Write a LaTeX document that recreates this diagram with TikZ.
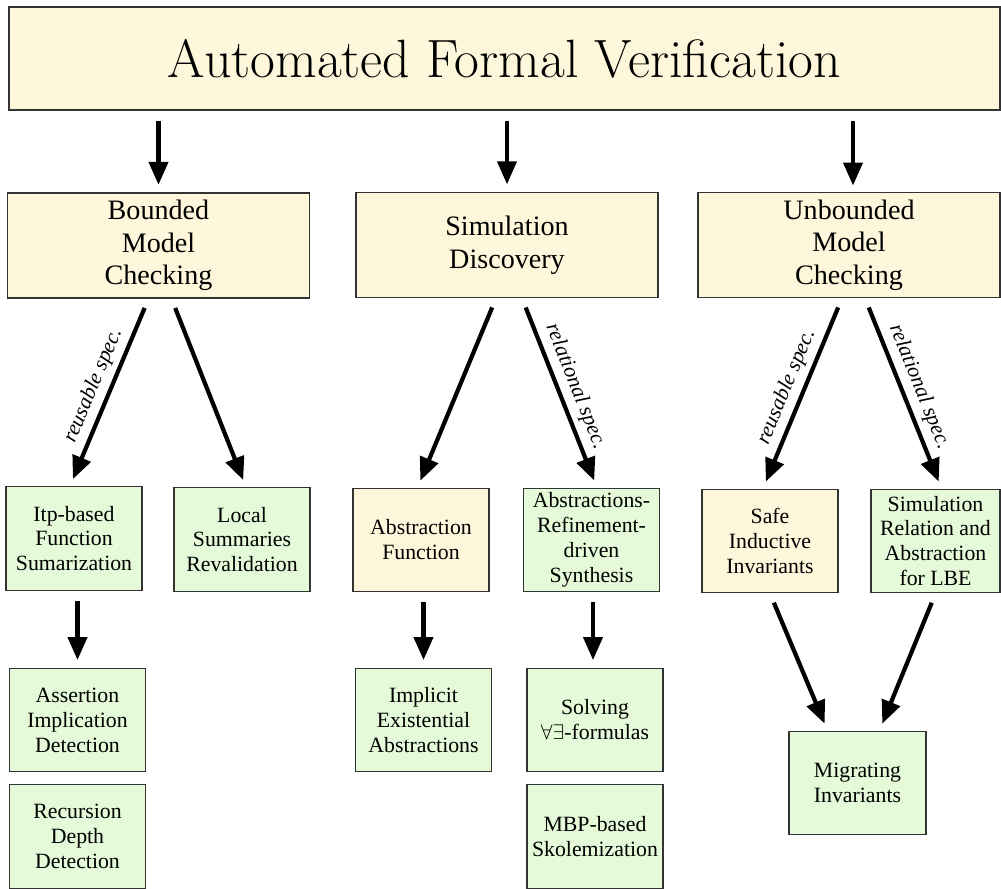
\documentclass[tikz,border=0pt]{standalone}
\usepackage{fontspec}
\newfontfamily\boxfont{Liberation Serif}
\usetikzlibrary{arrows.meta}

\definecolor{boxyellow}{RGB}{254,247,220}
\definecolor{boxgreen}{RGB}{228,250,216}

\begin{document}
\begin{tikzpicture}[
			x=0.02cm, y=-0.02cm,
			every node/.style={font=\boxfont\fontsize{12.4}{14.2}\selectfont, align=center, inner sep=0pt},
			box/.style={draw=black!80, line width=0.8pt, minimum width=2.72cm, minimum height=2.07cm},
			goal/.style={box, fill=boxyellow},
			task/.style={box, fill=boxgreen},
			area/.style={goal, minimum width=6.04cm, minimum height=2.1cm, font=\boxfont\fontsize{16}{18.6}\selectfont},
			link/.style={-{Triangle[width=0.38cm,length=0.46cm]}, line width=2.4pt, shorten <=0.2cm, shorten >=0.15cm},
			spec/.style={font=\boxfont\itshape\fontsize{12.2}{14}\selectfont, sloped, above, inner sep=3pt}
			]

				\useasboundingbox (0,0) rectangle (1001,889);

				% top
				\node[goal, minimum width=19.82cm, minimum height=2.06cm, font=\rmfamily\fontsize{30.7}{36}\selectfont]
					(title) at (504.5,58.5) {Automated Formal Verification};

				% three approaches
				\node[area] (bmc) at (158.5,245.5) {Bounded\\Model\\Checking};
				\node[area] (sd) at (507,245) {Simulation\\Discovery};
				\node[area] (umc) at (849,245) {Unbounded\\Model\\Checking};

				% techniques
				\node[task] (itp) at (74,538.5) {Itp-based\\Function\\Sumarization};
				\node[task] (local) at (242,539.5) {Local\\Summaries\\Revalidation};
				\node[goal] (absfun) at (421,540) {Abstraction\\Function};
				\node[task] (ards) at (591.5,540) {Abstractions-\\Refinement-\\driven\\Synthesis};
				\node[goal] (safe) at (770,541) {Safe\\Inductive\\Invariants};
				\node[task, minimum width=2.58cm] (simrel) at (935.5,541) {Simulation\\Relation and\\Abstraction\\for LBE};

				\node[task] (assert) at (77.5,720) {Assertion\\Implication\\Detection};
				\node[task] (recur) at (77.5,836.5) {Recursion\\Depth\\Detection};
				\node[task] (implicit) at (423.5,720) {Implicit\\Existential\\Abstractions};
				\node[task] (solving) at (595,720) {Solving\\$\forall\exists$-formulas};
				\node[task] (mbp) at (595,836.5) {MBP-based\\Skolemization};
				\node[task, minimum width=2.74cm] (migr) at (857.5,783) {Migrating\\Invariants};

				\draw[link] (title.south -| bmc.north) -- (bmc.north);
				\draw[link] (title.south -| sd.north) -- (sd.north);
				\draw[link] (title.south -| 853,0) -- (853,193);

				\draw[link] ([xshift=-0.2cm]bmc.south) -- node[spec] {reusable spec.} ([xshift=-0.08cm]itp.north);
				\draw[link] ([xshift=0.26cm]bmc.south) -- ([xshift=0.08cm]local.north);
				\draw[link] ([xshift=-0.22cm]sd.south) -- ([xshift=-0.07cm]absfun.north);
				\draw[link] ([xshift=0.3cm]sd.south) -- node[spec] {relational spec.} ([xshift=0.11cm]ards.north);
				\draw[link] ([xshift=-0.14cm]umc.south) -- node[spec] {reusable spec.} ([xshift=-0.14cm]safe.north);
				\draw[link] ([xshift=0.32cm]umc.south) -- node[spec] {relational spec.} ([xshift=0.12cm]simrel.north);

				\draw[link] (assert.north |- itp.south) -- (assert.north);
				\draw[link] (implicit.north |- absfun.south) -- (implicit.north);
				\draw[link] ([xshift=-0.04cm]solving.north |- ards.south) -- ([xshift=-0.04cm]solving.north);
				\draw[link] (safe.south) -- ([xshift=-0.6cm]migr.north);
				\draw[link] (simrel.south) -- ([xshift=0.44cm]migr.north);

			\end{tikzpicture}
\end{document}
